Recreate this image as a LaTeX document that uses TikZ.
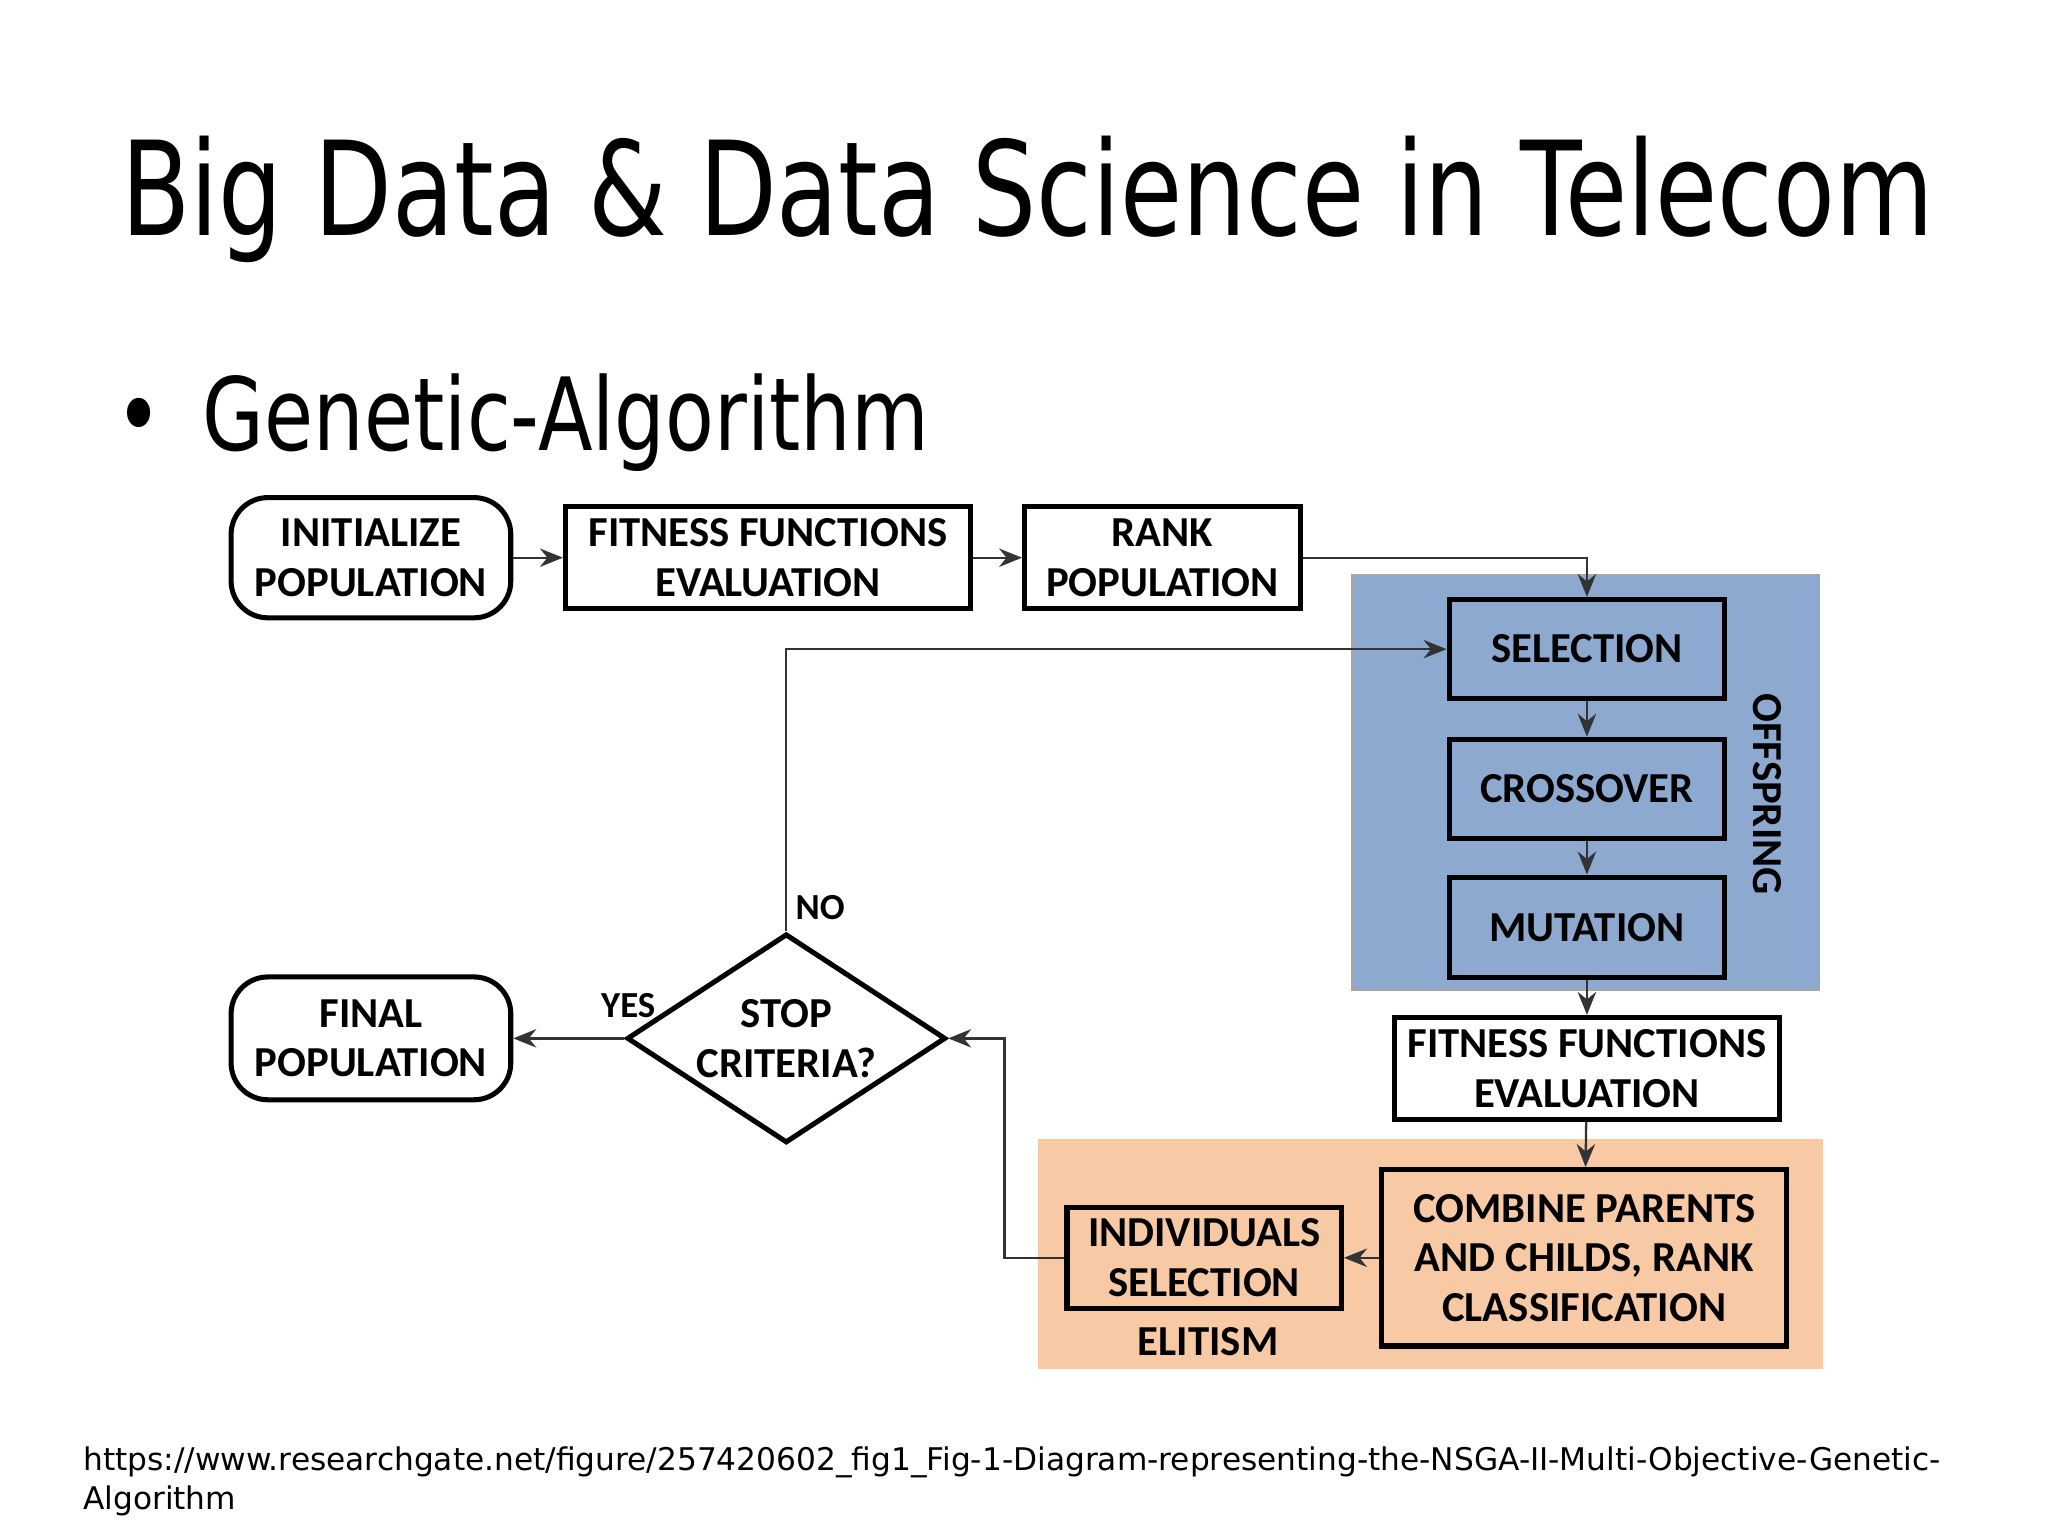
\documentclass[tikz,border=0pt]{standalone}
\usepackage{fontspec}
\setmainfont{DejaVu Sans}
\newfontfamily\boxfont{Carlito}
\usetikzlibrary{arrows.meta,shapes.geometric}
\tikzset{
 bx/.style={draw,line width=1.1pt,font=\boxfont\bfseries\fontsize{9.3}{10.8}\selectfont,align=center,inner sep=0pt},
 rbx/.style={bx,rounded corners=8pt},
 ln/.style={line width=0.5pt,draw=black!80,-{Stealth[length=5pt,width=4pt]}},
 lb/.style={font=\boxfont\bfseries\fontsize{9.3}{10.8}\selectfont}
}
\begin{document}
\begin{tikzpicture}[x=0.01cm,y=-0.01cm]
\useasboundingbox (0,0) rectangle (1568,1176);
\fill[white] (0,0) rectangle (1568,1176);
\node[anchor=base west,inner sep=0,font=\fontsize{28.5}{34}\selectfont] (title) at (92,180) {\scalebox{0.772}[1]{Big Data \& Data Science in Telecom}};
\node[anchor=base west,inner sep=0,font=\fontsize{22}{28}\selectfont] (bul) at (88,345) {\scalebox{0.79}[1]{•\hspace{0.5em}Genetic-Algorithm}};
\fill[fill={rgb,255:red,142;green,169;blue,208},draw=black!35] (1035,440) rectangle (1393,758);
\fill[fill={rgb,255:red,248;green,201;blue,165}] (795,872) rectangle (1396,1048);
\node[rbx,minimum width=2.14cm,minimum height=0.92cm] (init) at (284,427) {INITIALIZE\\POPULATION};
\node[bx,minimum width=3.10cm,minimum height=0.78cm] (fit1) at (588,427) {FITNESS FUNCTIONS\\EVALUATION};
\node[bx,minimum width=2.11cm,minimum height=0.78cm] (rank) at (890,427) {RANK\\POPULATION};
\node[bx,minimum width=2.11cm,minimum height=0.76cm] (sel) at (1215,497) {SELECTION};
\node[bx,minimum width=2.11cm,minimum height=0.76cm] (cro) at (1215,604) {CROSSOVER};
\node[bx,minimum width=2.11cm,minimum height=0.77cm] (mut) at (1215,710) {MUTATION};
\node[lb,rotate=-90] (off) at (1353,608) {OFFSPRING};
\node[bx,minimum width=2.95cm,minimum height=0.78cm] (fit2) at (1215,818) {FITNESS FUNCTIONS\\EVALUATION};
\node[bx,minimum width=3.10cm,minimum height=1.35cm] (comb) at (1213,963) {COMBINE PARENTS\\AND CHILDS, RANK\\CLASSIFICATION};
\node[bx,minimum width=2.10cm,minimum height=0.77cm] (ind) at (922,963) {INDIVIDUALS\\SELECTION};
\node[lb] (eli) at (925,1027) {ELITISM};
\node[diamond,draw,line width=1.1pt,minimum width=2.44cm,minimum height=1.60cm,inner sep=0pt] (stop) at (602,795) {};
\node[lb,align=center] (stopt) at (602,795) {STOP\\CRITERIA?};
\node[rbx,minimum width=2.14cm,minimum height=0.94cm] (fin) at (284,795) {FINAL\\POPULATION};
\node[lb,font=\boxfont\bfseries\fontsize{8}{10}\selectfont] (no) at (628,695) {NO};
\node[lb,font=\boxfont\bfseries\fontsize{8}{10}\selectfont] (yes) at (481,770) {YES};
\coordinate (c1) at (1215,427);
\coordinate (c2) at (602,497);
\coordinate (c3) at (769,963);
\coordinate (c4) at (769,795);
\draw[ln] (init) -- (fit1);
\draw[ln] (fit1) -- (rank);
\draw[ln] (rank.east) -- (c1) -- (sel.north);
\draw[ln] (sel) -- (cro);
\draw[ln] (cro) -- (mut);
\draw[ln] (mut) -- (fit2);
\draw[ln] (fit2) -- (comb);
\draw[ln] (comb) -- (ind);
\draw[ln] (ind.west) -- (c3) -- (c4) -- (stop.east);
\draw[ln] (stop.north) -- (c2) -- (sel.west);
\draw[ln] (stop.west) -- (fin.east);
\node[anchor=base west,inner sep=0,align=left,font=\fontsize{6.8}{8.6}\selectfont] (url) at (63,1156) {https://www.researchgate.net/figure/257420602\_fig1\_Fig-1-Diagram-representing-the-NSGA-II-Multi-Objective-Genetic-\\Algorithm};
\end{tikzpicture}
\end{document}
